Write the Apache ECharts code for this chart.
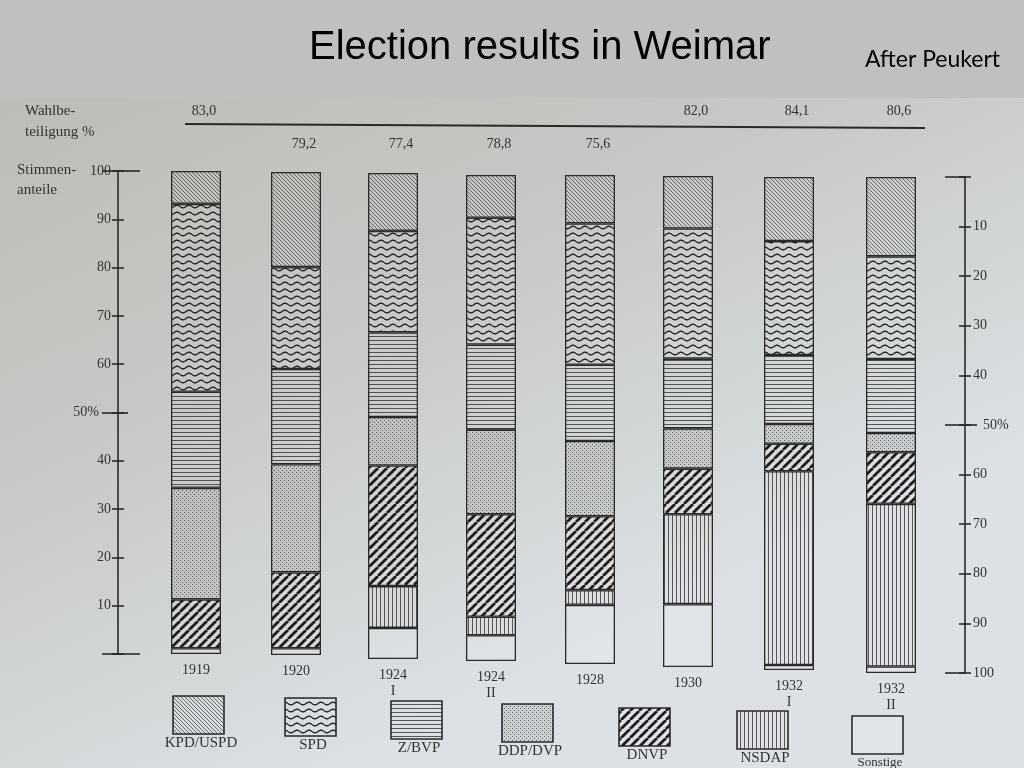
<!DOCTYPE html>
<html><head><meta charset="utf-8">
<script src="https://cdn.jsdelivr.net/npm/echarts@6/dist/echarts.min.js"></script>
<style>html,body{margin:0;padding:0;background:#c0c0c0;}#c{width:1024px;height:768px;}</style>
</head><body><div id="c"></div>
<script>
// ---- data ----
const elections = ['1919', '1920', '1924\nI', '1924\nII', '1928', '1930', '1932\nI', '1932\nII'];
const turnout = [83.0, 79.2, 77.4, 78.8, 75.6, 82.0, 84.1, 80.6];
const parties = ['KPD/USPD', 'SPD', 'Z/BVP', 'DDP/DVP', 'DNVP', 'NSDAP', 'Sonstige'];
const kpdUspd = [6.8, 19.7, 11.9, 8.8, 9.9, 10.7, 13.0, 16.0];
const spd     = [38.9, 21.1, 20.9, 26.1, 28.9, 26.5, 23.1, 20.7];
const zBvp    = [19.9, 19.7, 17.4, 17.5, 15.6, 14.2, 14.0, 14.9];
const ddpDvp  = [23.1, 22.4, 10.0, 17.4, 15.4, 8.2, 4.0, 3.9];
const dnvp    = [10.1, 15.7, 24.8, 21.1, 15.1, 9.3, 5.6, 10.4];
const nsdap   = [0, 0, 8.6, 3.8, 3.0, 18.3, 39.3, 32.8];
const sonstige = [1.2, 1.4, 6.4, 5.3, 12.1, 12.8, 1.0, 1.3];
const shareTicks = [0, 10, 20, 30, 40, 50, 60, 70, 80, 90, 100];

// ---- layout (photo perspective: each bar has its own frame) ----
const barCenter = [196, 296, 393, 491, 590, 688, 789, 891];
const barTop = [171, 172, 173, 175, 175, 176, 177, 177];
const barBottom = [654, 655, 659, 661, 664, 667, 670, 673];
const BAR_W = 50;
const legendBox = [[173, 696], [285, 698], [391, 701], [502, 704], [619, 708], [737, 711], [852, 716]];
const INK = '#2a2a2a';
const SERIF = '"Liberation Serif", "DejaVu Serif", serif';

// ---- patterns ----
function tile(w, h, draw) {
  const c = document.createElement('canvas'); c.width = w; c.height = h;
  const g = c.getContext('2d'); draw(g, w, h);
  return { image: c, repeat: 'repeat' };
}
function diag(s, lw, col, up) {
  return tile(s, s, g => {
    g.strokeStyle = col; g.lineWidth = lw; g.beginPath();
    for (let k = -1; k <= 1; k++) {
      if (up) { g.moveTo(k * s, s); g.lineTo(k * s + s, 0); }
      else { g.moveTo(k * s, 0); g.lineTo(k * s + s, s); }
    }
    g.stroke();
  });
}
const patterns = {
  'KPD/USPD': diag(4, 0.9, 'rgba(45,45,45,0.7)', false),
  'SPD': tile(12, 7, g => {
    g.strokeStyle = '#262626'; g.lineWidth = 1.4; g.beginPath();
    for (let x = 0; x <= 12; x += 0.5) {
      const y = 3.5 + 1.3 * Math.sin(2 * Math.PI * x / 12);
      if (x === 0) g.moveTo(x, y); else g.lineTo(x, y);
    }
    g.stroke();
  }),
  'Z/BVP': tile(4, 4, g => { g.fillStyle = 'rgba(40,40,40,0.75)'; g.fillRect(0, 0, 4, 1); }),
  'DDP/DVP': tile(4, 4, g => {
    g.fillStyle = 'rgba(150,150,150,0.22)'; g.fillRect(0, 0, 4, 4);
    g.fillStyle = 'rgba(50,50,50,0.7)'; g.fillRect(0, 0, 1, 1); g.fillRect(2, 2, 1, 1);
  }),
  'DNVP': diag(9, 2.8, '#1c1c1c', true),
  'NSDAP': tile(4, 4, g => { g.fillStyle = 'rgba(40,40,40,0.75)'; g.fillRect(0, 0, 1, 4); }),
  'Sonstige': 'rgba(255,255,255,0.12)'
};
const values = {
  'KPD/USPD': kpdUspd, 'SPD': spd, 'Z/BVP': zBvp, 'DDP/DVP': ddpDvp,
  'DNVP': dnvp, 'NSDAP': nsdap, 'Sonstige': sonstige
};

// ---- grids / axes / series ----
const grid = [], xAxis = [], yAxis = [], series = [];
const stackOrder = parties.slice().reverse(); // bottom -> top
elections.forEach((e, i) => {
  grid.push({ left: barCenter[i] - BAR_W / 2, width: BAR_W, top: barTop[i], height: barBottom[i] - barTop[i] });
  xAxis.push({
    type: 'category', gridIndex: i, data: [e],
    axisLine: { show: false }, axisTick: { show: false },
    axisLabel: { margin: 8, fontFamily: SERIF, fontSize: 14, color: '#333', lineHeight: 16 }
  });
  yAxis.push({ type: 'value', gridIndex: i, min: 0, max: 100, interval: 10, show: false, splitLine: { show: false } });
  stackOrder.forEach(p => {
    const v = values[p][i];
    series.push({
      type: 'bar', name: p, xAxisIndex: i, yAxisIndex: i, stack: 'st' + i,
      barWidth: '100%', silent: true,
      data: [v === 0 ? '-' : v],
      itemStyle: { color: patterns[p], borderColor: INK, borderWidth: 1.3 }
    });
  });
});
// visible share axes
const lineSt = { color: INK, width: 1.6 };
function shareAxis(gi, pos, off, inverse, extra) {
  return Object.assign({
    type: 'value', gridIndex: gi, min: 0, max: 100, interval: 10, position: pos, offset: off, inverse: inverse,
    splitLine: { show: false }, axisLine: { show: false }, axisTick: { show: false }, axisLabel: { show: false }
  }, extra);
}
const fmtShare = v => v === 0 ? '' : (v === 50 ? '{p|50%}' : String(v));
// left axis on first bar frame
yAxis[0] = shareAxis(0, 'left', 53, false, {
  axisLine: { show: true, lineStyle: lineSt },
  axisTick: { show: true, length: 6, lineStyle: lineSt },
  axisLabel: { show: true, margin: 7, formatter: fmtShare, fontFamily: SERIF, fontSize: 14, color: '#333',
    rich: { p: { fontFamily: SERIF, fontSize: 14, color: '#333', padding: [0, 12, 0, 0] } } }
});
yAxis.push(shareAxis(0, 'left', 53, false, { axisTick: { show: true, inside: true, length: 6, lineStyle: lineSt } }));
yAxis.push(shareAxis(0, 'left', 53, false, { axisTick: { show: true, length: 16, customValues: [0, 50, 100], lineStyle: lineSt } }));
yAxis.push(shareAxis(0, 'left', 53, false, { axisTick: { show: true, inside: true, length: 22, customValues: [0, 100], lineStyle: lineSt } }));
yAxis.push(shareAxis(0, 'left', 53, false, { axisTick: { show: true, inside: true, length: 10, customValues: [50], lineStyle: lineSt } }));
// right axis on last bar frame (inverted scale: share counted from the top)
const L = elections.length - 1;
yAxis.push(shareAxis(L, 'right', 49, true, {
  axisLine: { show: true, lineStyle: lineSt },
  axisTick: { show: true, length: 6, lineStyle: lineSt },
  axisLabel: { show: true, margin: 8, formatter: v => v === 0 ? '' : (v === 50 ? '{p|50%}' : String(v)),
    fontFamily: SERIF, fontSize: 14, color: '#333',
    rich: { p: { fontFamily: SERIF, fontSize: 14, color: '#333', padding: [0, 0, 0, 10] } } }
}));
yAxis.push(shareAxis(L, 'right', 49, true, { axisTick: { show: true, inside: true, length: 6, lineStyle: lineSt } }));
yAxis.push(shareAxis(L, 'right', 49, true, { axisTick: { show: true, inside: true, length: 20, customValues: [0, 50, 100], lineStyle: lineSt } }));
yAxis.push(shareAxis(L, 'right', 49, true, { axisTick: { show: true, length: 12, customValues: [50], lineStyle: lineSt } }));

// ---- graphic: header, captions, turnout, legend ----
const graphic = [
  { type: 'rect', shape: { x: 0, y: 0, width: 1024, height: 98 }, style: { fill: '#c0c0c0' }, z: 0 },
  { type: 'text', x: 309, y: 48, style: { text: 'Election results in Weimar', fill: '#000',
      font: '40px "Liberation Sans", Arial, sans-serif', textVerticalAlign: 'middle' } },
  { type: 'text', x: 865, y: 60, style: { text: 'After Peukert', fill: '#000',
      font: '23px Lato, "Open Sans", sans-serif', textVerticalAlign: 'middle' } },
  { type: 'text', x: 25, y: 111, style: { text: 'Wahlbe-', fill: '#333', font: '15px ' + SERIF, textVerticalAlign: 'middle' } },
  { type: 'text', x: 25, y: 132, style: { text: 'teiligung %', fill: '#333', font: '15px ' + SERIF, textVerticalAlign: 'middle' } },
  { type: 'text', x: 17, y: 170, style: { text: 'Stimmen-', fill: '#333', font: '15px ' + SERIF, textVerticalAlign: 'middle' } },
  { type: 'text', x: 17, y: 190, style: { text: 'anteile', fill: '#333', font: '15px ' + SERIF, textVerticalAlign: 'middle' } },
  { type: 'line', shape: { x1: 185, y1: 124, x2: 925, y2: 128 }, style: { stroke: INK, lineWidth: 2 } }
];
turnout.forEach((t, i) => {
  graphic.push({ type: 'text', x: barCenter[i] + 8, y: t >= 80 ? 111 : 144,
    style: { text: t.toFixed(1).replace('.', ','), fill: '#333', font: '14px ' + SERIF,
      textAlign: 'center', textVerticalAlign: 'middle' } });
});
parties.forEach((p, k) => {
  const [lx, ly] = legendBox[k];
  graphic.push({ type: 'rect', shape: { x: lx, y: ly, width: 51, height: 38 },
    style: { fill: patterns[p], stroke: INK, lineWidth: 1.6 } });
  graphic.push({ type: 'text', x: lx + 28, y: ly + 47,
    style: { text: p, fill: '#333', font: (p === 'Sonstige' ? '13px ' : '15px ') + SERIF,
      textAlign: 'center', textVerticalAlign: 'middle' } });
});

const chart = echarts.init(document.getElementById('c'));
chart.setOption({
  animation: false,
  backgroundColor: new echarts.graphic.LinearGradient(0, 0, 0.35, 1, [
    { offset: 0, color: '#b8bbb4' }, { offset: 0.5, color: '#c5c8c4' }, { offset: 1, color: '#dde1e5' }
  ]),
  grid, xAxis, yAxis, series, graphic
});
</script>
</body></html>
